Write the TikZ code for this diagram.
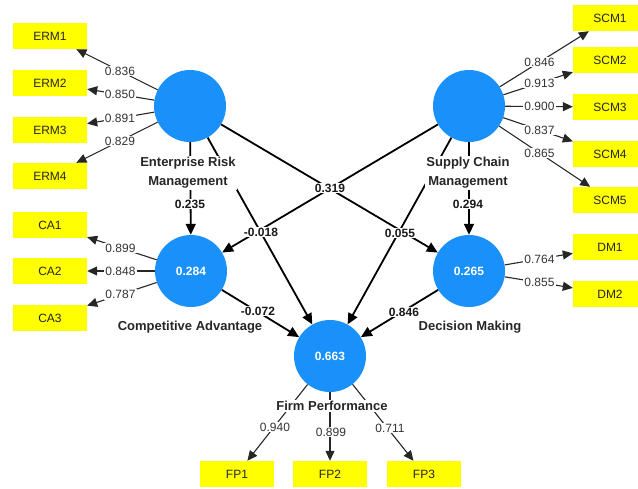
\documentclass[tikz,border=0pt]{standalone}
\usepackage{fontspec}
\setmainfont{Liberation Sans}
\usetikzlibrary{arrows.meta,calc}
\definecolor{lvblue}{HTML}{1A90FA}
\definecolor{indyel}{HTML}{FFFF00}
\definecolor{txtgray}{HTML}{333333}
\begin{document}
\begin{tikzpicture}[x=1pt,y=-1pt,
 latent/.style={circle,fill=lvblue,minimum size=72pt,inner sep=0pt,text=white,font=\fontsize{12}{14}\selectfont\bfseries},
 indicator/.style={rectangle,fill=indyel,minimum width=74pt,minimum height=26pt,inner sep=0pt,font=\fontsize{12}{14}\selectfont,text=black!85},
 outer/.style={draw=black!85,line width=1.1pt,-{Triangle[length=10pt,width=9pt]}},
 inner/.style={draw=black,line width=1.8pt,-{Triangle[length=11pt,width=10pt]}},
 load/.style={fill=white,inner sep=1pt,font=\fontsize{12}{14}\selectfont,text=txtgray},
 coef/.style={fill=white,inner sep=1pt,font=\fontsize{12}{14}\selectfont\bfseries,text=black!90},
 lvname/.style={fill=white,inner sep=1pt,align=center,font=\fontsize{13}{19}\selectfont\bfseries,text=black!85}]
\useasboundingbox (0,0) rectangle (638,488);
\clip (0,0) rectangle (638,488);
% latent variables
\node[latent] (ERM) at (190,106) {};
\node[latent] (SCM) at (469,106) {};
\node[latent] (CA) at (191,271) {0.284};
\node[latent] (DM) at (469,271) {0.265};
\node[latent] (FP) at (330,356) {0.663};
% indicators
\node[indicator] (ERM1) at (50,36) {ERM1};
\node[indicator] (ERM2) at (50,83) {ERM2};
\node[indicator] (ERM3) at (50,130) {ERM3};
\node[indicator] (ERM4) at (50,176) {ERM4};
\node[indicator] (SCM1) at (610,18) {SCM1};
\node[indicator] (SCM2) at (610,60) {SCM2};
\node[indicator] (SCM3) at (610,107) {SCM3};
\node[indicator] (SCM4) at (610,154) {SCM4};
\node[indicator] (SCM5) at (610,200) {SCM5};
\node[indicator] (CA1) at (50,225) {CA1};
\node[indicator] (CA2) at (50,271) {CA2};
\node[indicator] (CA3) at (50,318) {CA3};
\node[indicator] (DM1) at (610,247) {DM1};
\node[indicator] (DM2) at (610,294) {DM2};
\node[indicator] (FP1) at (237,474) {FP1};
\node[indicator] (FP2) at (330,474) {FP2};
\node[indicator] (FP3) at (424,474) {FP3};
% outer model arrows
\foreach \lv/\ind in {ERM/ERM1,ERM/ERM2,ERM/ERM3,ERM/ERM4,SCM/SCM1,SCM/SCM2,SCM/SCM3,SCM/SCM4,SCM/SCM5,CA/CA1,CA/CA2,CA/CA3,DM/DM1,DM/DM2,FP/FP1,FP/FP2,FP/FP3}
  \draw[outer] (\lv) -- (\ind);
% inner model arrows
\draw[inner] (ERM) -- (CA);
\draw[inner] (ERM) -- (DM);
\draw[inner] (ERM) -- (FP);
\draw[inner] (SCM) -- (CA);
\draw[inner] (SCM) -- (DM);
\draw[inner] (SCM) -- (FP);
\draw[inner] (CA) -- (FP);
\draw[inner] (DM) -- (FP);
% loadings
\node[load] (lERM1) at ($(ERM)!0.5!(ERM1)$) {0.836};
\node[load] (lERM2) at ($(ERM)!0.5!(ERM2)$) {0.850};
\node[load] (lERM3) at ($(ERM)!0.5!(ERM3)$) {0.891};
\node[load] (lERM4) at ($(ERM)!0.5!(ERM4)$) {0.829};
\node[load] (lSCM1) at ($(SCM)!0.5!(SCM1)$) {0.846};
\node[load] (lSCM2) at ($(SCM)!0.5!(SCM2)$) {0.913};
\node[load] (lSCM3) at ($(SCM)!0.5!(SCM3)$) {0.900};
\node[load] (lSCM4) at ($(SCM)!0.5!(SCM4)$) {0.837};
\node[load] (lSCM5) at ($(SCM)!0.5!(SCM5)$) {0.865};
\node[load] (lCA1) at ($(CA)!0.5!(CA1)$) {0.899};
\node[load] (lCA2) at ($(CA)!0.5!(CA2)$) {0.848};
\node[load] (lCA3) at ($(CA)!0.5!(CA3)$) {0.787};
\node[load] (lDM1) at ($(DM)!0.5!(DM1)$) {0.764};
\node[load] (lDM2) at ($(DM)!0.5!(DM2)$) {0.855};
\node[load] (lFP1) at (275,427) {0.940};
\node[load] (lFP2) at (331,432) {0.899};
\node[load] (lFP3) at (390,428) {0.711};
% path coefficients
\node[coef] (cERMCA) at (190,204) {0.235};
\node[coef] (cSCMDM) at (468,204) {0.294};
\node[coef] (cERMDM) at (330,188) {0.319};
\node[coef] (cERMFP) at (261,232) {-0.018};
\node[coef] (cSCMFP) at (400,233) {0.055};
\node[coef] (cCAFP) at (258,311) {-0.072};
\node[coef] (cDMFP) at (404,312) {0.846};
% construct names
\node[lvname] (nERM) at (188,173) {Enterprise Risk\\Management};
\node[lvname] (nSCM) at (468,173) {Supply Chain\\Management};
\node[lvname] (nCA) at (190,327) {Competitive Advantage};
\node[lvname] (nDM) at (470,327) {Decision Making};
\node[lvname] (nFP) at (332,406) {Firm Performance};
\end{tikzpicture}
\end{document}
